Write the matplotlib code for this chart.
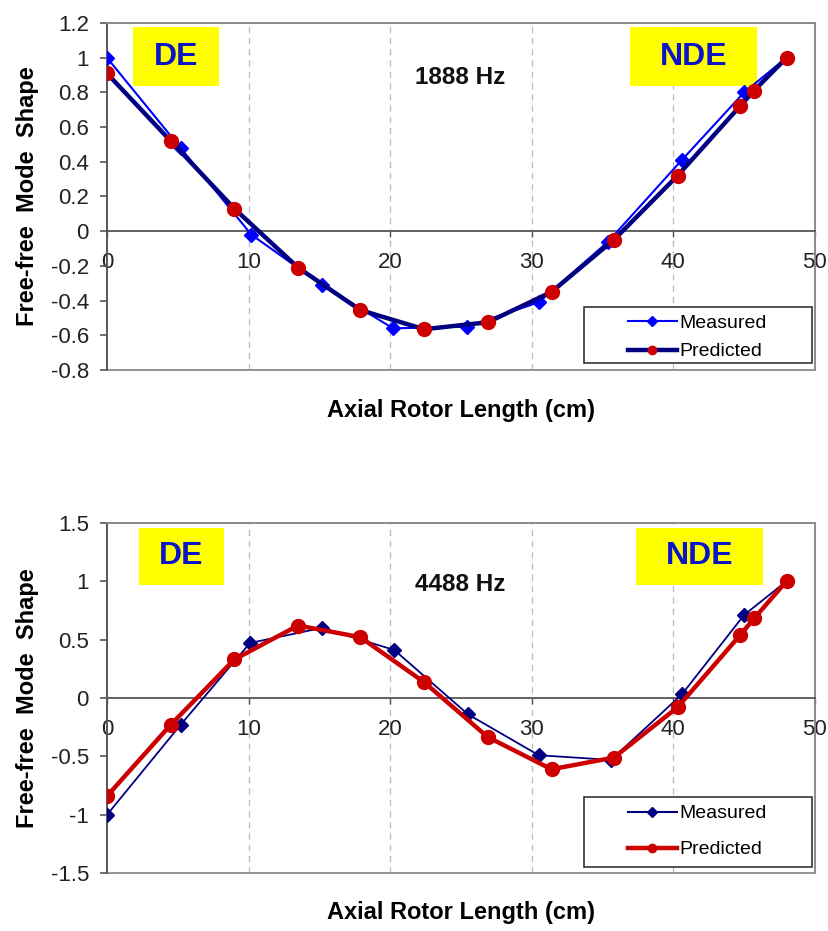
import matplotlib
matplotlib.use("Agg")
import matplotlib.pyplot as plt
from matplotlib.lines import Line2D
from matplotlib.patches import Rectangle

plt.rcParams["font.family"] = ["Liberation Sans", "DejaVu Sans"]

# ── Data ──────────────────────────────────────────────────────────────────────
# 1888 Hz mode
meas1_x = [0, 5.2, 10.2, 15.2, 20.2, 25.4, 30.5, 35.4, 40.6, 45.0, 48.0]
meas1_y = [1.0, 0.48, -0.02, -0.31, -0.56, -0.55, -0.41, -0.06, 0.41, 0.80, 1.0]
pred1_x = [0, 4.5, 9.0, 13.5, 17.9, 22.4, 26.9, 31.4, 35.8, 40.3, 44.7, 45.7, 48.0]
pred1_y = [0.91, 0.52, 0.13, -0.21, -0.455, -0.565, -0.525, -0.35, -0.05, 0.32, 0.72, 0.81, 1.0]

# 4488 Hz mode
meas2_x = [0, 5.2, 10.1, 15.2, 20.3, 25.5, 30.5, 35.6, 40.6, 45.0, 48.0]
meas2_y = [-1.0, -0.23, 0.47, 0.60, 0.41, -0.14, -0.49, -0.53, 0.03, 0.71, 1.0]
pred2_x = [0, 4.5, 9.0, 13.5, 17.9, 22.4, 26.9, 31.4, 35.8, 40.3, 44.7, 45.7, 48.0]
pred2_y = [-0.84, -0.23, 0.33, 0.62, 0.52, 0.135, -0.335, -0.61, -0.51, -0.08, 0.535, 0.68, 1.0]

x_ticks = [0, 10, 20, 30, 40, 50]
y_ticks1 = [-0.8, -0.6, -0.4, -0.2, 0, 0.2, 0.4, 0.6, 0.8, 1, 1.2]
y_ticks2 = [-1.5, -1, -0.5, 0, 0.5, 1, 1.5]

RED = "#CC0000"
NAVY = "#000080"
BLUE = "#0000FF"
GRAY = "#8C8C8C"

fig = plt.figure(figsize=(8.29, 9.31), dpi=100)
ax1 = fig.add_axes([0.129, 0.6026, 0.854, 0.3727])
ax2 = fig.add_axes([0.129, 0.0620, 0.854, 0.3766])


def fmt(v):
    return f"{v:g}"


def style_axes(ax, yticks, hz_text, y_hz, de_box, nde_box, leg_y, leg_space,
               meas_col, pred_col, leg_box, xlabel_y):
    # spine position first: moving it resets the tick settings
    ax.spines["bottom"].set_position(("data", 0))
    ax.spines["bottom"].set_color("#555555")
    ax.spines["bottom"].set_linewidth(1.3)
    ax.spines["left"].set_color("#555555")
    ax.spines["left"].set_linewidth(1.3)
    for s in ("top", "right"):
        ax.spines[s].set_color(GRAY)
        ax.spines[s].set_linewidth(1.3)
    ax.add_patch(Rectangle((0, 0), 1, 1, transform=ax.transAxes, fill=False,
                           edgecolor=GRAY, lw=1.3, zorder=1, clip_on=False))

    ax.set_xlim(0, 50)
    ax.set_ylim(yticks[0], yticks[-1])
    ax.set_xticks(x_ticks)
    ax.set_xticklabels([fmt(t) for t in x_ticks], fontsize=16, color="#222222")
    ax.set_yticks(yticks)
    ax.set_yticklabels([fmt(t) for t in yticks], fontsize=16, color="#222222")
    ax.tick_params(axis="y", direction="out", length=5, width=1.2, color="#555555", pad=8)
    ax.tick_params(axis="x", direction="out", length=4, width=1.0, color="#555555", pad=11)

    for xv in x_ticks[1:-1]:
        ax.axvline(xv, color="#BBBBBB", lw=0.9, ls=(0, (5, 4)), zorder=0)

    ax.set_ylabel("Free-free  Mode  Shape", fontsize=17, fontweight="bold")
    ax.yaxis.set_label_coords(-0.112, 0.5)
    ax.yaxis.label.set_va("center")
    ax.set_xlabel("Axial Rotor Length (cm)", fontsize=17, fontweight="bold")
    ax.xaxis.set_label_coords(0.5, xlabel_y)
    ax.xaxis.label.set_va("center")

    ax.text(0.4986, y_hz, hz_text, transform=ax.transAxes, ha="center", va="center",
            fontsize=17.5, fontweight="bold", color="#111111")

    for (x0, x1, y0, y1), lab in ((de_box, "DE"), (nde_box, "NDE")):
        ax.add_patch(Rectangle((x0, y0), x1 - x0, y1 - y0, transform=ax.transAxes,
                               facecolor="#FFFF00", edgecolor="none", zorder=2))
        ax.text((x0 + x1) / 2, (y0 + y1) / 2, lab, transform=ax.transAxes,
                ha="center", va="center", fontsize=23, fontweight="bold",
                color="#0A14C8", zorder=3)

    # legend frame + entries
    lx0, lx1, ly0, ly1 = leg_box
    ax.add_patch(Rectangle((lx0, ly0), lx1 - lx0, ly1 - ly0, transform=ax.transAxes,
                           facecolor="white", edgecolor="#333333", lw=1.2, zorder=4))
    handles = [
        Line2D([], [], color=meas_col, lw=1.5, marker="D", ms=5,
               markerfacecolor=meas_col, markeredgecolor=meas_col),
        Line2D([], [], color=pred_col, lw=3.2, marker="o", ms=6,
               markerfacecolor=RED, markeredgecolor=RED),
    ]
    leg = ax.legend(handles, ["Measured", "Predicted"], loc="center left",
                    bbox_to_anchor=(0.736, leg_y), frameon=False, fontsize=14,
                    handlelength=2.5, handletextpad=0.15, borderpad=0,
                    borderaxespad=0, labelspacing=leg_space)
    leg.set_zorder(5)


# ── Top: 1888 Hz ──────────────────────────────────────────────────────────────
ax1.plot(meas1_x, meas1_y, color=BLUE, lw=1.5, marker="D", ms=7,
         markerfacecolor=BLUE, markeredgecolor=BLUE, zorder=3)
ax1.plot(pred1_x, pred1_y, color=NAVY, lw=3.2, marker="o", ms=10,
         markerfacecolor=RED, markeredgecolor=RED, zorder=3)
style_axes(ax1, y_ticks1, "1888 Hz", 0.842,
           (0.0367, 0.158, 0.818, 0.988), (0.739, 0.918, 0.818, 0.988),
           0.094, 0.55, BLUE, NAVY, (0.674, 0.996, 0.02, 0.182), -0.118)

# ── Bottom: 4488 Hz ───────────────────────────────────────────────────────────
ax2.plot(meas2_x, meas2_y, color=NAVY, lw=1.3, marker="D", ms=7,
         markerfacecolor=NAVY, markeredgecolor=NAVY, zorder=3)
ax2.plot(pred2_x, pred2_y, color=RED, lw=3.2, marker="o", ms=10,
         markerfacecolor=RED, markeredgecolor=RED, zorder=3)
style_axes(ax2, y_ticks2, "4488 Hz", 0.825,
           (0.045, 0.165, 0.822, 0.985), (0.747, 0.927, 0.822, 0.985),
           0.119, 0.95, NAVY, RED, (0.674, 0.996, 0.018, 0.218), -0.112)

fig.savefig("out.png", dpi=100)
